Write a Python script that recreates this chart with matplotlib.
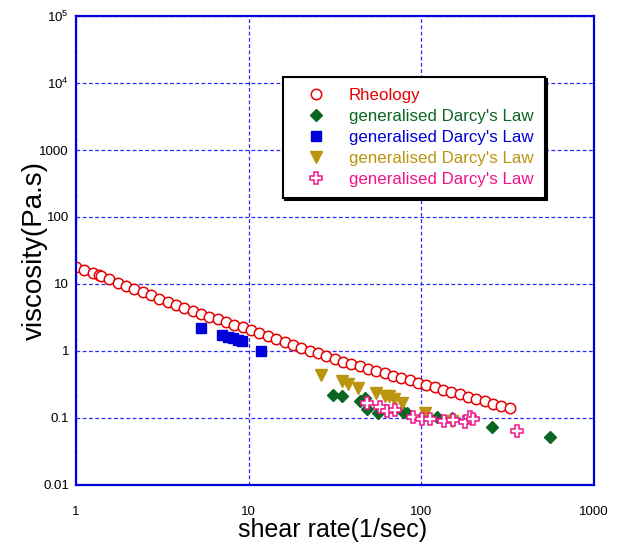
#!/usr/bin/env python

"""Viscosity vs shear rate: rheometer data against generalised Darcy's law."""

import matplotlib
matplotlib.use("Agg")
import matplotlib.pyplot as plt
from matplotlib.ticker import FixedLocator, FixedFormatter, NullLocator

plt.rcParams['font.family'] = ['Liberation Sans', 'DejaVu Sans']
plt.rcParams['mathtext.fontset'] = 'custom'
plt.rcParams['mathtext.rm'] = 'Liberation Sans'

# Rheology (open red circles)
rheo_rate = [1.00, 1.118, 1.249, 1.36, 1.396, 1.560, 1.744, 1.949, 2.178, 2.434,
             2.721, 3.041, 3.399, 3.799, 4.246, 4.745, 5.303, 5.927, 6.624,
             7.403, 8.274, 9.247, 10.33, 11.55, 12.91, 14.43, 16.13, 18.03,
             20.14, 22.51, 25.16, 28.12, 31.43, 35.12, 39.26, 43.87, 49.03,
             54.8, 61.25, 68.45, 76.5, 85.5, 95.56, 106.8, 119.4, 133.4, 149.1,
             166.7, 186.3, 208.2, 232.7, 260.0, 290.6, 324.8]
rheo_visc = [18.1, 16.2, 14.5, 13.4, 13.0, 11.7, 10.5, 9.40, 8.41, 7.55,
             6.76, 6.07, 5.43, 4.87, 4.37, 3.92, 3.56, 3.25, 2.97,
             2.72, 2.48, 2.27, 2.06, 1.86, 1.68, 1.52, 1.37, 1.24,
             1.12, 1.01, 0.918, 0.830, 0.750, 0.692, 0.640, 0.590, 0.545,
             0.504, 0.465, 0.430, 0.396, 0.366, 0.338, 0.313, 0.288, 0.266, 0.245,
             0.226, 0.209, 0.193, 0.178, 0.164, 0.152, 0.140]

# generalised Darcy's Law, green diamonds
green_rate = [30.9, 34.5, 44.1, 47.2, 48.4, 56.1, 78.6, 82.2, 123, 150, 255, 556]
green_visc = [0.220, 0.213, 0.182, 0.197, 0.136, 0.117, 0.123, 0.117, 0.1045,
              0.100, 0.0741, 0.0526]

# generalised Darcy's Law, blue squares
blue_rate = [5.3, 7.0, 7.6, 8.1, 8.7, 9.2, 11.8]
blue_visc = [2.2, 1.73, 1.62, 1.55, 1.47, 1.40, 1.0]

# generalised Darcy's Law, gold triangles
gold_rate = [26.1, 34.6, 37.7, 43.1, 54.6, 61.6, 64.9, 69.7, 76.9, 105, 150]
gold_visc = [0.438, 0.361, 0.321, 0.277, 0.239, 0.213, 0.213, 0.190, 0.169,
             0.117, 0.090]

# generalised Darcy's Law, pink open crosses
pink_rate = [48.2, 57.5, 63.0, 70.3, 89.8, 100.8, 113, 135, 153, 180, 191, 200, 360]
pink_visc = [0.166, 0.146, 0.129, 0.130, 0.1045, 0.0957, 0.0957, 0.0902,
             0.0933, 0.088, 0.1045, 0.0957, 0.065]

y_ticks = [0.01, 0.1, 1, 10, 100, 1000, 1e4, 1e5]
y_labels = ['0.01', '0.1', '1', '10', '100', '1000', '10$^4$', '10$^5$']
x_ticks = [1, 10, 100, 1000]
x_labels = ['1', '10', '100', '1000']

RED = '#e60000'
GREEN = '#0b6623'
BLUE = '#0000d8'
GRID = '#2a2aff'
GOLD = '#bb9510'
PINK = '#f0148c'

fig = plt.figure(figsize=(6.19, 5.5), dpi=100)
axes = fig.add_axes([0.1228, 0.1182, 0.8368, 0.8527])

axes.plot(rheo_rate, rheo_visc, 'o', ms=7.5, mfc='white', mec=RED, mew=1.1,
          ls='none', label='Rheology')
axes.plot(green_rate, green_visc, 'D', ms=6, color=GREEN, ls='none',
          label="generalised Darcy's Law")
axes.plot(blue_rate, blue_visc, 's', ms=7.5, color=BLUE, ls='none',
          label="generalised Darcy's Law")
axes.plot(gold_rate, gold_visc, 'v', ms=8, color=GOLD, ls='none',
          label="generalised Darcy's Law")
axes.plot(pink_rate, pink_visc, 'P', ms=9, mfc='white', mec=PINK, mew=1.1,
          ls='none', label="generalised Darcy's Law")

axes.set_xscale('log')
axes.set_yscale('log')
axes.set_xlim(1, 1000)
axes.set_ylim(0.01, 1e5)

axes.xaxis.set_major_locator(FixedLocator(x_ticks))
axes.xaxis.set_major_formatter(FixedFormatter(x_labels))
axes.yaxis.set_major_locator(FixedLocator(y_ticks))
axes.yaxis.set_major_formatter(FixedFormatter(y_labels))
axes.xaxis.set_minor_locator(NullLocator())
axes.yaxis.set_minor_locator(NullLocator())
axes.tick_params(axis='x', length=0, pad=15, labelsize=9.5)
axes.tick_params(axis='y', length=0, pad=5, labelsize=9.5)

axes.grid(True, color=GRID, ls=(0, (3, 2)), lw=0.9)
for spine in axes.spines.values():
    spine.set_color(BLUE)
    spine.set_linewidth(1.6)

axes.set_xlabel('shear rate(1/sec)', fontsize=18)
axes.set_ylabel('viscosity(Pa.s)', fontsize=20)
# label positions, in axes fractions
axes.xaxis.set_label_coords(0.495, -0.07)
axes.yaxis.set_label_coords(-0.055, 0.5)

leg = axes.legend(loc='upper left', bbox_to_anchor=(0.40, 0.870), fontsize=12.2,
                  frameon=True, fancybox=False,
                  shadow={'color': 'black', 'alpha': 1, 'ox': 1.5, 'oy': -1.5},
                  borderpad=0.65, labelspacing=0.36, handletextpad=0.69,
                  handlelength=2.55, borderaxespad=0)
leg.get_frame().set_edgecolor('black')
leg.get_frame().set_linewidth(1.5)
for text, col in zip(leg.get_texts(), [RED, GREEN, BLUE, GOLD, PINK]):
    text.set_color(col)

fig.savefig('out.png', dpi=100)
